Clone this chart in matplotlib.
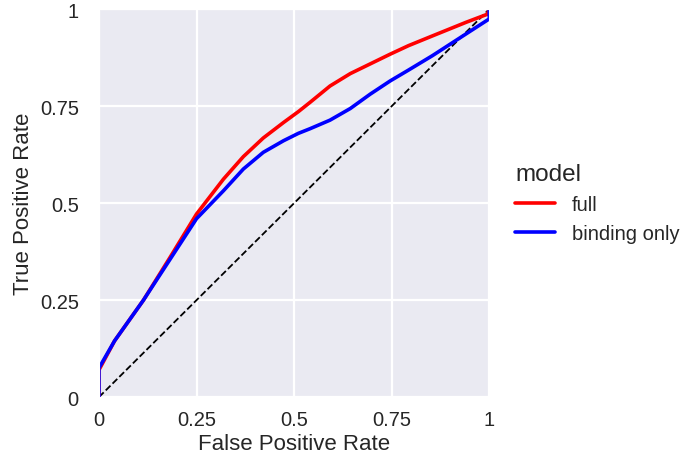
import numpy as np
import matplotlib.pyplot as plt
import seaborn as sns

sns.set_style("darkgrid")
plt.rcParams['font.family'] = ['Liberation Sans', 'DejaVu Sans']

# ROC points
fpr_full = [0, 0, 0.04, 0.114, 0.182, 0.25, 0.319, 0.37, 0.421, 0.473, 0.511, 0.541,
            0.592, 0.644, 0.695, 0.746, 0.793, 0.854, 0.94, 0.995, 1]
tpr_full = [0, 0.07, 0.145, 0.25, 0.36, 0.472, 0.562, 0.62, 0.668, 0.708, 0.736, 0.76,
            0.802, 0.834, 0.859, 0.884, 0.906, 0.931, 0.966, 0.987, 1]
fpr_bind = [0, 0, 0.04, 0.114, 0.182, 0.25, 0.319, 0.37, 0.421, 0.473, 0.511, 0.541,
            0.592, 0.644, 0.695, 0.746, 0.793, 0.854, 0.94, 1, 1]
tpr_bind = [0, 0.075, 0.145, 0.25, 0.355, 0.46, 0.532, 0.588, 0.631, 0.661, 0.68, 0.692,
            0.714, 0.744, 0.781, 0.815, 0.843, 0.88, 0.936, 0.975, 1]
ticks = [0, 0.25, 0.5, 0.75, 1]
tick_labels = ["0", "0.25", "0.5", "0.75", "1"]

fig = plt.figure(figsize=(6.92, 4.64), dpi=100)
ax = fig.add_axes([0.143, 0.142, 0.564, 0.836])
ax.grid(color='white', linewidth=1.6)

ax.plot([0, 1], [0, 1], color='black', linestyle='--', linewidth=1.3)
ax.plot(fpr_full, tpr_full, color='red', linewidth=2.6, label='full')
ax.plot(fpr_bind, tpr_bind, color='blue', linewidth=2.6, label='binding only')

ax.set_xlim(0, 1)
ax.set_ylim(0, 1)
ax.set_xticks(ticks)
ax.set_xticklabels(tick_labels)
ax.set_yticks(ticks)
ax.set_yticklabels(tick_labels)
ax.tick_params(labelsize=14.5, colors='#262626')
ax.tick_params(axis='y', pad=11)
ax.tick_params(axis='x', pad=6)
ax.set_xlabel("False Positive Rate", fontsize=16, color='#262626', labelpad=3)
ax.set_ylabel("True Positive Rate", fontsize=16, color='#262626')

leg = ax.legend(title='model', loc='center left', bbox_to_anchor=(1.02, 0.5),
                frameon=False, fontsize=14.5, title_fontsize=17.5)
leg._legend_box.align = 'left'

fig.savefig('out.png', dpi=100)
